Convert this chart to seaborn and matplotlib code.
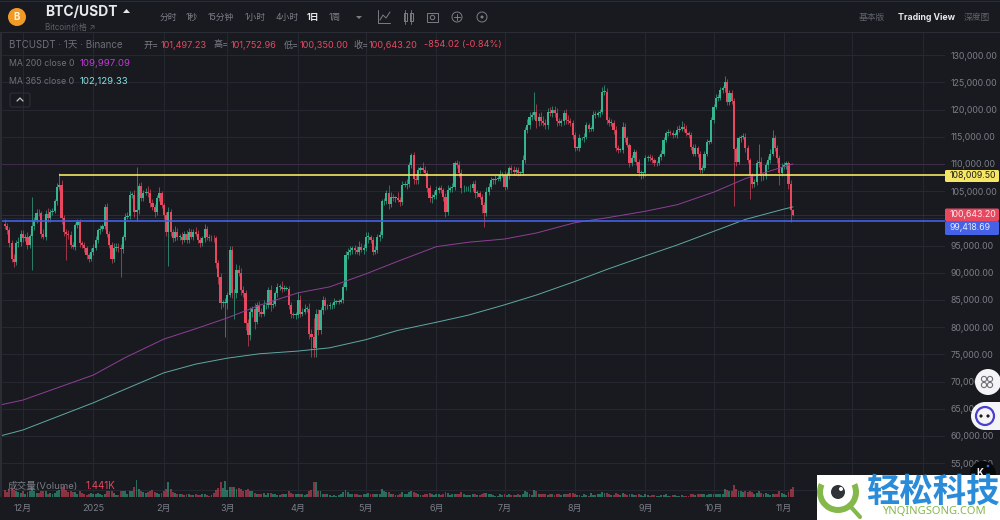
import numpy as np
import pandas as pd
import matplotlib
matplotlib.use("Agg")
import matplotlib.pyplot as plt
from matplotlib.patches import Circle, Rectangle, Wedge, FancyBboxPatch, Polygon
import seaborn as sns

# ==============================
# data (prices in thousand USDT)
# ==============================

last_day = "2025-11-05"

closes = [
    98.6,97.8,95.4,92.6,92.0,95.4,95.7,97.2,96.3,96.6,
    95.1,96.7,98.5,99.7,101.0,100.9,97.2,96.6,100.8,100.0,
    101.2,101.4,103.1,105.8,106.1,100.0,97.5,97.2,96.9,95.1,
    94.8,98.8,99.4,95.4,95.1,94.5,93.2,92.6,93.9,94.6,
    96.0,97.8,98.1,98.5,102.1,97.2,95.1,92.6,94.5,94.8,
    94.5,94.3,96.6,100.3,100.4,104.3,104.3,101.2,101.5,105.9,
    103.7,104.6,104.9,104.6,102.8,102.1,101.2,103.7,104.6,102.4,
    100.6,97.5,101.2,97.5,96.3,97.5,96.6,96.6,96.0,97.2,
    96.0,97.5,96.6,97.5,97.2,96.0,95.4,96.3,98.1,96.6,
    96.3,96.4,96.3,91.7,89.3,84.4,84.4,84.4,85.9,94.2,
    86.2,86.2,90.5,89.9,86.8,86.2,80.7,78.5,82.8,83.4,
    81.0,84.0,82.8,82.5,84.0,84.0,86.8,84.0,84.2,86.2,
    87.4,87.4,87.1,87.1,87.1,84.0,82.5,82.2,82.2,85.0,
    82.5,82.8,83.4,83.4,78.8,78.2,76.1,82.5,79.4,83.1,
    85.0,83.8,83.8,84.0,84.0,84.7,84.7,84.7,85.0,87.4,
    93.3,93.9,94.2,94.5,94.2,93.9,94.8,94.2,94.5,96.6,
    96.6,96.0,93.9,94.2,96.6,96.9,103.1,103.1,104.6,102.7,
    104.0,103.7,103.7,103.4,103.0,106.1,106.1,106.4,109.8,111.6,
    107.3,107.0,108.9,109.2,108.9,108.3,105.5,103.7,104.0,104.3,
    105.2,105.5,105.2,104.0,101.2,105.2,105.5,105.8,110.1,109.8,
    108.3,105.5,105.5,105.5,105.5,105.5,106.4,104.6,104.6,104.0,
    102.4,100.9,104.9,105.8,107.0,107.0,107.3,107.3,107.9,107.9,
    105.8,107.9,109.2,108.9,108.6,108.9,108.3,108.3,110.7,116.2,
    117.1,118.7,119.0,119.6,117.8,118.7,117.8,117.5,117.1,119.6,
    119.3,119.9,119.3,117.8,117.5,117.8,119.3,118.1,117.8,117.5,
    115.3,112.9,112.9,114.7,114.7,115.0,117.1,116.5,116.5,119.0,
    119.0,119.3,119.6,123.3,123.3,118.1,117.5,117.5,116.2,112.9,
    112.6,112.6,116.8,114.7,113.5,110.1,111.0,112.2,110.4,108.3,
    108.3,108.3,111.0,111.3,111.0,110.7,110.1,110.1,111.3,111.9,
    114.4,115.6,115.9,115.6,115.3,115.3,116.2,116.5,116.8,116.5,
    115.6,115.3,113.2,111.9,112.9,111.9,108.9,109.2,111.9,114.1,
    114.1,118.1,120.5,122.1,122.2,123.6,123.9,125.1,121.4,123.0,
    121.5,112.8,110.4,114.7,115.0,115.0,112.9,110.7,108.0,106.4,
    106.7,110.1,110.4,107.7,107.7,109.8,110.7,111.9,114.7,112.9,
    111.0,108.3,109.5,109.8,110.1,106.4,101.497,100.643,
]
first_open = 98.9

wick_up = [
    .9,.5,.6,.7,.8,.7,.9,.6,.7,.5,
    .9,.4,5.5,.5,.8,.7,.5,.9,.7,1.1,
    .6,.5,.4,.7,2.2,.9,.6,.5,.7,.8,
    .6,.4,.5,.5,.5,.6,.4,.5,.6,.7,
    .8,.4,.6,.5,.6,.7,.4,.5,1.0,.6,
    .6,.7,.4,.6,.7,.8,.6,1.0,8.0,.6,
    .8,.6,.6,1.0,.8,.8,.5,.6,1.1,.5,
    .4,.5,.9,.6,.6,1.0,.7,.5,.8,.5,
    .6,.7,.5,.6,.9,.7,.5,.4,.9,.4,
    .6,.5,.5,.4,.6,.7,.6,.9,.5,.8,
    .7,.8,1.1,1.0,.9,.7,.7,.8,.9,.5,
    1.0,.6,.8,.7,.9,.4,.6,.9,.8,.4,
    .7,.5,1.1,.6,.5,.4,.6,.3,.6,1.5,
    1.0,.7,.8,.5,1.0,.9,3.5,.9,.9,.6,
    .7,.6,.5,.7,.4,.7,.3,.5,.4,.8,
    .7,.6,.7,.5,.6,.8,1.1,.6,.7,.8,
    .9,.4,.6,.8,.6,.7,.5,.6,.7,1.6,
    .8,.5,.4,1.2,.5,.7,.7,.8,.6,.4,
    .6,.9,.6,.5,1.2,.7,.6,.7,.5,.7,
    .7,.5,.6,.4,.7,.9,.5,.7,.5,.6,
    .8,.7,.6,.5,.4,.9,.5,.6,.7,.5,
    .4,.6,.8,.7,.6,.4,.6,.7,.9,.6,
    .8,.7,.5,.6,.7,.5,.6,.4,.9,.5,
    1.1,.8,.6,3.6,1.5,.7,.8,1.0,.8,.7,
    .9,.8,.7,.9,.6,.4,.7,.8,.9,.7,
    .5,.6,.4,.8,.3,.6,.6,.5,.4,.8,
    .7,.5,.5,.9,1.2,.6,.5,.7,.6,.8,
    .6,.4,.9,.7,.5,.4,.6,.5,.4,.5,
    .6,.3,.7,.4,.5,.6,.3,.5,.4,.7,
    .6,.4,.5,.4,.6,.5,.7,.6,1.0,.8,
    .6,.4,.5,.5,.7,.4,.5,.6,.4,.4,
    .3,.5,.6,.7,.6,.5,.4,1.0,.6,.5,
    .5,.7,.4,.5,.4,.6,.7,.5,.4,.3,
    .5,.7,3.3,.8,.6,.5,.7,.8,1.5,.6,
    .5,.6,.7,.5,.5,.5,.6,.26,
]

wick_dn = [
    .5,.7,.6,.6,.9,.5,.6,.7,.6,.5,
    .7,.6,6.2,.7,.6,.5,.8,.4,.5,.7,
    .6,.5,.4,.6,.5,1.0,.8,4.9,.7,.5,
    .5,.6,.5,.7,.5,.6,.7,.6,.5,.6,
    .4,.5,.6,.4,.5,.7,.6,.8,.6,.5,
    .6,5.0,.7,.6,.5,.6,.5,1.0,1.7,.7,
    .6,.5,.4,.6,.7,.6,.9,.5,.6,.5,
    .8,.7,6.3,.7,.6,.5,.6,.5,.7,.4,
    .5,.6,.4,.6,.5,.5,.7,.4,.6,.6,
    .5,.4,.6,.9,1.4,1.1,.7,6.2,1.0,.4,
    .9,4.7,.9,.5,.8,.7,1.2,1.9,.8,1.0,
    1.3,.5,.7,.6,.5,.6,.5,1.0,.5,.4,
    .7,.5,.6,.4,.3,.6,.8,.5,.7,.5,
    .7,.5,.4,.6,1.0,3.7,1.5,1.5,.9,.6,
    .6,.7,.5,.4,.6,.5,.4,.5,.3,.6,
    .5,.7,.6,.8,.7,.5,.6,.4,.7,.5,
    1.1,.5,.6,.4,.6,.7,.5,.6,.5,.9,
    .6,.5,.7,.4,.8,.5,.4,.7,.6,.5,
    .9,.6,.7,.5,.4,.5,.6,.7,.9,.5,
    .7,.6,.5,.9,1.0,.5,.4,.7,.6,.5,
    .7,.8,.6,.4,.5,.7,.5,.9,.6,.5,
    1.4,2.5,.5,.6,.4,.7,.6,.4,.5,.3,
    .5,.4,.6,.5,.6,.4,.5,.3,.4,.5,
    .5,.7,.6,.8,1.2,.9,.6,.5,.7,.6,
    .5,.7,.6,.8,.4,.6,.7,.8,.5,.6,
    .7,.6,.4,.5,.3,.6,.4,.7,.5,.4,
    .5,.4,.6,.5,.7,.8,.6,.5,.7,.6,
    .5,.4,.5,.6,.4,.7,.5,.4,.6,.5,
    1.0,.9,.6,.4,.5,.6,.4,.5,.3,.5,
    .5,.4,.5,.3,.6,.4,.5,.3,.5,.6,
    .4,.5,.6,.5,.4,.7,.6,.5,.4,.5,
    .4,.3,.5,.4,.6,.4,.5,.6,.5,.6,
    .5,10.6,.8,.5,.6,.5,.7,.6,4.5,.9,
    .6,.5,.7,.8,.6,.5,.7,.6,.5,.6,
    .9,2.2,.6,.5,.7,1.0,2.08,.29,
]

# volume in K, same order as closes
volumes = [
    1.0,.7,1.2,1.3,1.0,.9,.7,.6,.8,.5,
    .7,.9,1.4,.8,.6,.6,.9,.9,.9,.5,
    .6,.5,.6,.8,1.0,1.5,1.6,1.0,.7,.8,
    .7,.7,.5,.8,.6,.4,.3,.5,.6,.5,
    .4,.6,.4,.3,.5,.8,.8,.9,.6,.3,
    .3,.9,.8,.9,.5,.8,.9,1.4,2.5,1.2,
    .9,.7,.6,.7,.8,1.0,.7,.6,.5,.6,
    .9,1.1,2.1,1.2,.7,.6,.5,.4,.5,.3,
    .4,.5,.3,.3,.4,.3,.3,.5,.4,.3,
    .2,.3,.6,1.0,1.3,2.2,1.3,2.3,1.0,1.5,
    1.5,1.5,1.2,1.3,1.2,.9,1.0,1.2,.9,.8,
    .6,.5,.5,.4,.6,.3,.6,.6,.5,.4,
    .3,.3,.4,.5,.4,.8,.6,.4,.4,.5,
    .5,.4,.3,.4,.8,1.0,2.1,2.2,.8,.8,
    .5,.4,.4,.3,.2,.3,.2,.3,.4,.7,
    1.0,.7,.4,.4,.5,.4,.3,.3,.4,.5,
    .6,.4,.5,.4,.5,.5,1.1,.9,.7,.7,
    .5,.5,.3,.3,.4,.7,.4,.5,.7,.9,
    .7,.6,.4,.3,.3,.5,.5,.6,.5,.3,
    .4,.5,.3,.4,.7,.6,.3,.4,.5,.4,
    .5,.7,.4,.3,.3,.3,.4,.5,.3,.3,
    .4,.6,.6,.5,.4,.3,.2,.2,.4,.3,
    .4,.3,.4,.3,.3,.3,.4,.3,.4,.8,
    .7,.4,.3,1.0,.8,.5,.4,.4,.5,.3,
    .4,.4,.3,.4,.4,.3,.5,.4,.4,.6,
    .6,.5,.3,.3,.2,.5,.3,.2,.6,.3,
    .3,.4,.5,.7,.6,.6,.4,.3,.3,.6,
    .5,.3,.6,.4,.3,.5,.4,.3,.3,.5,
    .3,.2,.4,.3,.2,.3,.3,.2,.2,.3,
    .3,.4,.2,.2,.3,.3,.2,.2,.3,.2,
    .2,.2,.4,.4,.3,.5,.5,.4,.4,.3,
    .4,.4,.4,.5,.5,.4,.5,1.1,1.0,.9,
    .8,1.8,1.2,.9,.8,.7,.9,.7,.9,.7,
    .5,.6,.9,.6,.5,.6,.4,.3,.5,.5,
    .5,.8,.6,.4,.3,.7,1.2,1.441,
]

ma_dates = ["2024-11-21", "2024-12-01", "2025-01-01", "2025-01-15", "2025-02-01", "2025-02-15",
            "2025-03-01", "2025-03-15", "2025-04-01", "2025-04-15", "2025-05-01", "2025-05-15",
            "2025-06-01", "2025-06-15", "2025-07-01", "2025-07-15", "2025-08-01", "2025-08-15",
            "2025-09-01", "2025-09-15", "2025-10-01", "2025-10-15", "2025-11-01", "2025-11-05"]
ma200 = [65.7, 66.6, 71.2, 74.4, 77.8, 79.7, 81.7, 84.0, 86.3, 87.4, 89.8, 92.1,
         94.8, 95.6, 96.2, 97.3, 99.2, 100.1, 101.3, 102.5, 104.8, 107.3, 109.5, 110.0]
ma365 = [60.0, 61.1, 66.1, 68.6, 71.6, 73.2, 74.3, 75.1, 75.6, 76.2, 77.7, 79.4,
         80.9, 82.2, 84.1, 85.9, 88.4, 90.6, 93.1, 95.1, 97.6, 99.8, 101.7, 102.1]

month_ticks = ["2024-12-01", "2025-01-01", "2025-02-01", "2025-03-01", "2025-04-01", "2025-05-01",
               "2025-06-01", "2025-07-01", "2025-08-01", "2025-09-01", "2025-10-01", "2025-11-01",
               "2025-12-01", "2026-01-01"]
month_labels = ["12月", "2025", "2月", "3月", "4月", "5月", "6月", "7月", "8月", "9月", "10月", "11月", "", ""]
price_ticks = list(range(50000, 135000, 5000))
covered_ticks = [50000, 100000]  # sit under the watermark and the price tags

resistance = 108009.50
support = 99418.69
last_close = 100643.20
ma200_last = 109997.09

BG = "#181a20"
GRID = "#262931"
GREEN = "#35b58f"
RED = "#e8485f"
TXT = "#7b7e87"
CJK = ["Inter", "Noto Sans CJK SC", "DejaVu Sans"]

# ==============================
# theme, figure
# ==============================

sns.set_theme(style="dark", rc={"axes.facecolor": BG, "figure.facecolor": BG})
plt.rcParams["font.family"] = CJK

fig = plt.figure(figsize=(10, 5.2), dpi=100)
ax = fig.add_axes([0, 23 / 520, 0.945, 465 / 520])
ax_vol = fig.add_axes([0, 23 / 520, 0.945, 465 / 520], sharex=ax)
ui = fig.add_axes([0, 0, 1, 1], zorder=10)

# ==============================
# candles
# ==============================

days = pd.date_range(end=last_day, periods=len(closes), freq="D")
df = pd.DataFrame({"day": days, "close": closes, "up": wick_up, "dn": wick_dn, "vol": volumes})
df["open"] = df["close"].shift(1).fillna(first_open)
df["top"] = df[["open", "close"]].max(axis=1)
df["bot"] = df[["open", "close"]].min(axis=1)
df["high"] = df["top"] + df["up"]
df["low"] = df["bot"] - df["dn"]
df["color"] = np.where(df["close"] >= df["open"], GREEN, RED)

ax.vlines(df["day"], df["low"] * 1000, df["high"] * 1000, colors=df["color"], lw=0.45, zorder=3)
ax.bar(df["day"], (df["top"] - df["bot"]).clip(lower=0.15) * 1000, bottom=df["bot"] * 1000,
       width=0.95, color=df["color"], linewidth=0, zorder=4)

ma_x = pd.to_datetime(ma_dates)
sns.lineplot(x=ma_x, y=np.array(ma200) * 1000, ax=ax, color="#8f3f96", lw=0.7, zorder=5, legend=False)
sns.lineplot(x=ma_x, y=np.array(ma365) * 1000, ax=ax, color="#5fa9a3", lw=0.7, zorder=5, legend=False)

# level lines
ax.axhline(ma200_last, color="#a845a8", alpha=0.2, lw=0.7, zorder=2)
ax.axhline(last_close, color=RED, alpha=0.2, lw=0.7, zorder=2)
ax.hlines(resistance, pd.Timestamp("2024-12-17"), pd.Timestamp("2026-02-01"), color="#f5e663", lw=1.2, zorder=6)
ax.axhline(support, color="#4561e6", lw=1.2, zorder=6)

ax.set_ylim(48780, 134250)
ax.set_xlim(pd.Timestamp("2025-11-01") - pd.Timedelta(days=345.1), pd.Timestamp("2025-11-01") + pd.Timedelta(days=70.9))
ax.set_xticks(pd.to_datetime(month_ticks))
ax.set_xticklabels(month_labels, fontsize=6.5, color=TXT)
ax.yaxis.tick_right()
ax.set_yticks(price_ticks)
ax.set_yticklabels(["" if p in covered_ticks else f"{p:,.2f}" for p in price_ticks], fontsize=6.3, color=TXT)
ax.tick_params(axis="both", length=0)
ax.tick_params(axis="x", pad=5)
ax.tick_params(axis="y", pad=4)
ax.grid(True, color=GRID, lw=0.7)
ax.set_axisbelow(True)
ax.set_xlabel("")
ax.set_ylabel("")
for s in ax.spines.values():
    s.set_visible(False)

# volume, same x axis, pinned to the bottom of the pane
ax_vol.bar(df["day"], df["vol"], width=0.85, color=df["color"], alpha=0.55, linewidth=0)
ax_vol.set_ylim(0, 67)
ax_vol.patch.set_alpha(0)
ax_vol.grid(False)
ax_vol.tick_params(labelbottom=False, labelleft=False, left=False, bottom=False)
for s in ax_vol.spines.values():
    s.set_visible(False)

# ==============================
# screen chrome, in pixel coordinates
# ==============================

ui.set_xlim(0, 1000)
ui.set_ylim(520, 0)
ui.axis("off")
ui.patch.set_alpha(0)

def t(x, y, s, size=6.5, color=TXT, ha="left", weight="normal"):
    ui.text(x, y, s, fontsize=size, color=color, ha=ha, va="center", fontweight=weight, family=CJK)

# top bar
ui.add_patch(Rectangle((0, 0), 1000, 32, color=BG, lw=0))
ui.add_patch(Rectangle((0, 32), 2, 465, color="#2a2d33", lw=0))
ui.plot([0, 1000], [32, 32], color="#2a2d35", lw=0.8)
ui.plot([0, 1000], [1, 1], color="#2a2d35", lw=0.8)
ui.add_patch(Circle((17, 17), 9, color="#f09a27", lw=0))
t(17, 17, "B", 7, "#fff3dd", "center", "bold")
t(45, 12, "BTC/USDT", 10, "#e6e8ec", weight="bold")
ui.add_patch(Polygon([[123, 13], [130, 13], [126.5, 9]], color="#e6e8ec", lw=0))
t(45, 27, "Bitcoin价格 ↗", 5.8, "#5d6068")
for x, s, c, w in [(160, "分时", TXT, "normal"), (186, "1秒", TXT, "normal"), (208, "15分钟", TXT, "normal"),
                   (245, "1小时", TXT, "normal"), (276, "4小时", TXT, "normal"), (307, "1日", "#e6e8ec", "bold"),
                   (329, "1周", TXT, "normal")]:
    t(x, 17.5, s, 6.3, c, weight=w)
ui.add_patch(Polygon([[356, 16], [362, 16], [359, 19]], color=TXT, lw=0))

# toolbar icons
ui.plot([378, 378, 390], [10, 23, 23], color=TXT, lw=0.7)
ui.plot([380, 383, 386, 390], [20, 15, 18, 12], color=TXT, lw=0.7)
for x in (405, 411):
    ui.add_patch(Rectangle((x - 1.5, 13), 3, 8, fill=False, ec=TXT, lw=0.7))
    ui.plot([x, x], [10, 24], color=TXT, lw=0.6, zorder=1)
ui.add_patch(Rectangle((427, 13), 11, 9, fill=False, ec=TXT, lw=0.7))
ui.add_patch(Circle((432.5, 17.5), 2.2, fill=False, ec=TXT, lw=0.7))
ui.add_patch(Circle((457, 17), 5, fill=False, ec=TXT, lw=0.7))
ui.plot([454, 460], [17, 17], color=TXT, lw=0.7)
ui.plot([457, 457], [14, 20], color=TXT, lw=0.7)
ui.add_patch(Circle((482, 17), 5, fill=False, ec=TXT, lw=0.7))
ui.add_patch(Circle((482, 17), 1.5, color=TXT, lw=0))

t(859, 17.5, "基本版", 6.3, "#5f626a")
t(898, 17.5, "Trading View", 6.3, "#e6e8ec", weight="bold")
t(964, 17.5, "深度图", 6.3, "#5f626a")

# legend rows
t(9, 45, "BTCUSDT · 1天 · Binance", 7, "#6d7078")
for x, s, c in [(144, "开=", TXT), (161, "101,497.23", RED), (213, "高=", TXT), (231, "101,752.96", RED),
                (284, "低=", TXT), (300, "100,350.00", RED), (353, "收=", TXT), (369, "100,643.20", RED),
                (424, "-854.02 (-0.84%)", RED)]:
    t(x, 45, s, 6.6, c)
t(9, 63, "MA 200 close 0", 6.3, "#6d7078")
t(80, 63, "109,997.09", 6.9, "#c23bd6")
t(9, 81, "MA 365 close 0", 6.3, "#6d7078")
t(80, 81, "102,129.33", 6.9, "#84e0e0")
ui.add_patch(FancyBboxPatch((10, 93), 20, 14, boxstyle="round,pad=0,rounding_size=2", fill=False, ec="#2c2f37", lw=0.8))
ui.plot([17, 20, 23], [101, 98, 101], color="#c4c6cc", lw=0.9)

t(8, 486, "成交量(Volume)", 6.9, "#7a7d85")
t(85, 486, "1.441K", 7, RED)

# price tags on the scale
for y0, y1, label, fc, tc in [(170, 182, "108,009.50", "#f5e663", "#1b1c20"),
                              (208.5, 221, "100,643.20", "#e8485f", "#ffe9ec"),
                              (221, 235, "99,418.69", "#4561e6", "#e6eaff")]:
    ui.add_patch(FancyBboxPatch((945, y0), 54, y1 - y0, boxstyle="round,pad=0,rounding_size=1.5", color=fc, lw=0))
    t(950, (y0 + y1) / 2, label, 6.3, tc)

# floating buttons over the scale
ui.add_patch(Circle((988, 382), 13, color="#f4f4f6", lw=0))
for dx, dy in [(-3, -3), (3, -3), (-3, 3), (3, 3)]:
    ui.add_patch(Circle((987 + dx, 382 + dy), 2.6, fill=False, ec="#6c6e74", lw=0.8))
ui.add_patch(Circle((985, 416), 14, color="#f4f4f6", lw=0))
ui.add_patch(Rectangle((985, 402), 15, 28, color="#f4f4f6", lw=0))
ui.add_patch(Circle((985, 416), 9, fill=False, ec="#4a3fd0", lw=1.6))
ui.add_patch(Circle((981, 416), 1.6, color="#1b1c20", lw=0))
ui.add_patch(Circle((988, 416), 1.6, color="#1b1c20", lw=0))
ui.add_patch(Circle((983, 474), 13, color="#08090b", lw=0))
ui.add_patch(Circle((988, 466), 1.3, color="#3b62e0", lw=0))
t(980, 472.5, "K", 7, "#f4f4f6", "center", "bold")

# watermark
ui.add_patch(Rectangle((817, 475), 183, 45, color="#ffffff", lw=0, zorder=5))
ui.add_patch(Wedge((838, 492), 21, -25, 205, width=6, color="#85b84a", lw=0, zorder=6))
ui.plot([851, 860], [507, 517], color="#85b84a", lw=3, zorder=6, solid_capstyle="round")
ui.add_patch(Circle((838, 492), 7, color="#2f3338", lw=0, zorder=6))
ui.add_patch(Circle((841, 489), 2, color="#ffffff", lw=0, zorder=7))
ui.text(866, 492, "轻松科技", fontsize=24, color="#2a8bd8", va="center", fontweight="bold",
        family=["Noto Sans CJK SC", "DejaVu Sans"], zorder=6)
ui.text(882, 512, "YNQINGSONG.COM", fontsize=8, color="#85b84a", va="center", fontweight="bold",
        family=["Noto Sans", "DejaVu Sans"], zorder=6)

fig.savefig("out.png", dpi=100, facecolor=BG)
